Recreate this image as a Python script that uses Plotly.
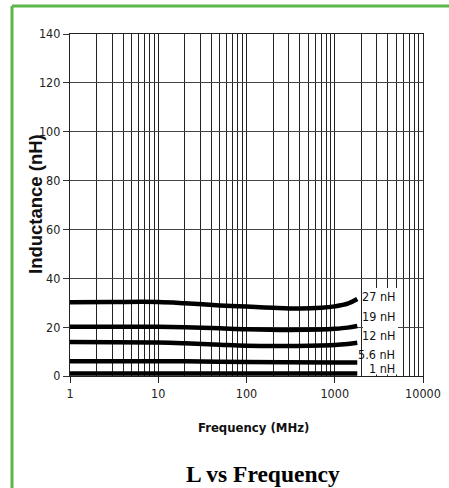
import plotly.graph_objects as go

# ---- data ----
freq_27 = [1, 3, 10, 20, 50, 100, 200, 400, 700, 1000, 1400, 1800]
L_27 = [30.2, 30.3, 30.3, 29.8, 28.9, 28.4, 27.9, 27.6, 27.9, 28.5, 29.6, 31.5]

freq_19 = [1, 10, 20, 50, 100, 300, 700, 1000, 1400, 1800]
L_19 = [20.2, 20.2, 20.0, 19.5, 19.1, 18.8, 19.0, 19.3, 19.8, 20.5]

freq_12 = [1, 10, 20, 50, 100, 300, 1000, 1400, 1800]
L_12 = [13.9, 13.7, 13.4, 12.8, 12.4, 12.3, 12.7, 13.1, 13.6]

freq_56 = [1, 20, 100, 1000, 1800]
L_56 = [6.0, 6.0, 5.7, 5.5, 5.5]

freq_1 = [1, 100, 1800]
L_1 = [1.0, 1.0, 1.0]

series_labels = ["27 nH", "19 nH", "12 nH", "5.6 nH", "1 nH"]
label_y = [32.7, 24.3, 16.5, 8.9, 3.2]

x_tickvals = [1, 10, 100, 1000, 10000]
x_ticktext = ["1", "10", "100", "1000", "10000"]
x_minor = [m * d for d in [1, 10, 100, 1000] for m in range(2, 10)]
y_tickvals = [0, 20, 40, 60, 80, 100, 120, 140]

SANS = "DejaVu Sans Condensed, Liberation Sans, Arial, sans-serif"

fig = go.Figure()
for fx, fy in [(freq_27, L_27), (freq_19, L_19), (freq_12, L_12),
               (freq_56, L_56), (freq_1, L_1)]:
    fig.add_trace(go.Scatter(x=fx, y=fy, mode="lines",
                             line=dict(color="black", width=4.5, shape="spline", smoothing=1.0),
                             showlegend=False, hoverinfo="skip"))

W, H = 449, 488
L, R, T, B = 70, 26, 34, 112
pw, ph = W - L - R, H - T - B

def px(x):
    return (x - L) / pw

def py(y):
    return (H - B - y) / ph

fig.update_layout(
    width=W, height=H, autosize=False,
    margin=dict(l=L, r=R, t=T, b=B, pad=0, autoexpand=False),
    paper_bgcolor="white", plot_bgcolor="white",
    xaxis=dict(type="log", range=[0, 4], tickvals=x_tickvals, ticktext=x_ticktext,
               automargin=False,
               ticks="outside", ticklen=6, tickcolor="#222", tickwidth=1,
               showgrid=True, gridcolor="#222", gridwidth=1.2,
               showline=True, linecolor="#222", linewidth=1.2, mirror=True,
               zeroline=False,
               tickfont=dict(family=SANS, size=12.5, color="#222"),
               minor=dict(tickvals=x_minor, showgrid=True, gridcolor="#222",
                          gridwidth=1, ticks="")),
    yaxis=dict(range=[0, 140], tickvals=y_tickvals,
               automargin=False,
               ticks="outside", ticklen=6, tickcolor="#333", tickwidth=1,
               showgrid=True, gridcolor="#444", gridwidth=1.4,
               showline=True, linecolor="#222", linewidth=1.2, mirror=True,
               zeroline=False,
               tickfont=dict(family=SANS, size=12.5, color="#222")),
)

shapes = [
    # white box behind the series labels
    dict(type="rect", xref="paper", yref="paper",
         x0=px(363), x1=px(398), y0=py(374.5), y1=py(288),
         fillcolor="white", line=dict(width=0), layer="above"),
    # green frame (left and top edges)
    dict(type="line", xref="paper", yref="paper",
         x0=px(12), x1=px(12), y0=py(490), y1=py(6),
         line=dict(color="#5BB848", width=3), layer="above"),
    dict(type="line", xref="paper", yref="paper",
         x0=px(12), x1=px(460), y0=py(6), y1=py(6),
         line=dict(color="#5BB848", width=3), layer="above"),
]
fig.update_layout(shapes=shapes)

ann = []
for t, yv in zip(series_labels, label_y):
    ann.append(dict(text=t, xref="paper", yref="y", x=px(397), y=yv,
                    xanchor="right", yanchor="middle", showarrow=False,
                    font=dict(family=SANS, size=12.5, color="#111")))
ann.append(dict(text="<b>Frequency (MHz)</b>", xref="paper", yref="paper",
                x=px(253), y=py(427), xanchor="center", yanchor="middle",
                showarrow=False, font=dict(family=SANS, size=13, color="#111")))
ann.append(dict(text="<b>Inductance (nH)</b>", xref="paper", yref="paper",
                x=px(35), y=py(204), xanchor="center", yanchor="middle",
                textangle=-90, showarrow=False,
                font=dict(family="Liberation Sans, Arial, sans-serif", size=18.5, color="#111")))
ann.append(dict(text="<b>L vs Frequency</b>", xref="paper", yref="paper",
                x=px(263), y=py(474), xanchor="center", yanchor="middle",
                showarrow=False,
                font=dict(family="Liberation Serif, Times New Roman, serif", size=23.5, color="black")))
fig.update_layout(annotations=ann)

fig.write_html("out.html", config={"displayModeBar": False, "responsive": False},
               post_script="document.body.style.margin='0';document.body.style.overflow='hidden';")
